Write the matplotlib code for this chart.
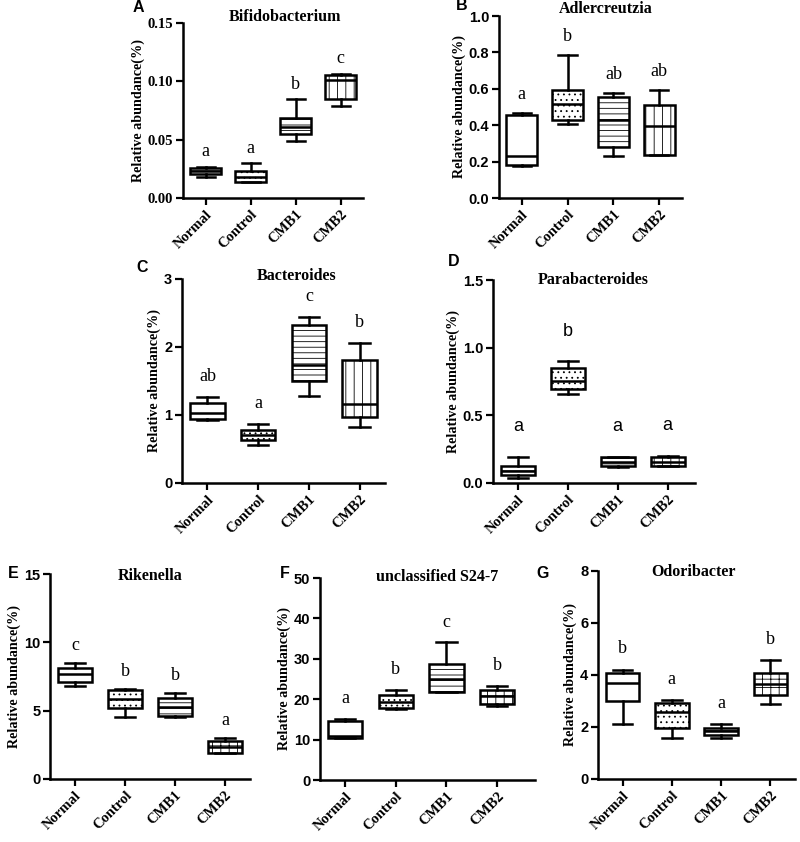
import matplotlib.pyplot as plt

plt.rcParams['hatch.linewidth'] = 0.6

groups = ['Normal', 'Control', 'CMB1', 'CMB2']

# each box: (min, q1, median, q3, max)
bifido = [(0.0177, 0.0209, 0.0234, 0.0257, 0.027),
          (0.0135, 0.0137, 0.018, 0.0229, 0.030),
          (0.0491, 0.0546, 0.0606, 0.0686, 0.0849),
          (0.0791, 0.0849, 0.101, 0.1054, 0.1066)]
adler = [(0.176, 0.18, 0.233, 0.457, 0.468),
         (0.406, 0.428, 0.514, 0.596, 0.785),
         (0.229, 0.279, 0.428, 0.556, 0.576),
         (0.237, 0.237, 0.398, 0.51, 0.596)]
bactero = [(0.92, 0.946, 1.03, 1.176, 1.265),
           (0.554, 0.637, 0.71, 0.775, 0.873),
           (1.284, 1.505, 1.74, 2.33, 2.44),
           (0.82, 0.97, 1.16, 1.81, 2.06)]
parabac = [(0.037, 0.057, 0.091, 0.123, 0.189),
           (0.657, 0.696, 0.757, 0.848, 0.898),
           (0.116, 0.128, 0.155, 0.189, 0.194),
           (0.123, 0.123, 0.155, 0.189, 0.197)]
rikenella = [(6.83, 7.07, 7.66, 8.15, 8.51),
             (4.56, 5.22, 5.83, 6.51, 6.56),
             (4.51, 4.63, 5.29, 5.9, 6.32),
             (1.93, 1.93, 2.37, 2.8, 2.98)]
s24 = [(10.3, 10.5, 10.9, 14.65, 15.06),
       (17.6, 17.8, 19.4, 21.1, 22.4),
       (21.7, 21.9, 25.0, 28.6, 34.1),
       (18.3, 18.8, 20.7, 22.3, 23.3)]
odori = [(2.11, 3.0, 3.70, 4.08, 4.21),
         (1.56, 1.97, 2.59, 2.93, 3.03),
         (1.56, 1.69, 1.84, 1.97, 2.11),
         (2.88, 3.25, 3.64, 4.08, 4.57)]

sig_A = ['a', 'a', 'b', 'c']
sig_B = ['a', 'b', 'ab', 'ab']
sig_C = ['ab', 'a', 'c', 'b']
sig_D = ['a', 'b', 'a', 'a']
sig_E = ['c', 'b', 'b', 'a']
sig_F = ['a', 'b', 'c', 'b']
sig_G = ['b', 'a', 'a', 'b']

W, H = 800, 842
fig = plt.figure(figsize=(W / 100, H / 100), dpi=100)

SERIF = 'Liberation Serif'
SANS = 'Liberation Sans'


def px_axes(left, top, right, bottom):
    return fig.add_axes([left / W, 1 - bottom / H, (right - left) / W, (bottom - top) / H])


panels = [
    # letter, title, data, sig, box(l,t,r,b), ymax, yticks, fmt, tickfont, hatches, letter pos, title pos, sigoff, sigfont, xmax
    ('A', 'Bifidobacterium', bifido, sig_A, (183, 23, 363, 198), 0.15, [0, 0.05, 0.10, 0.15], '{:.2f}', SERIF,
     ['--', '...', '---', '||'], (133, 8), (285, 17), 0.085, SERIF, 3.5),
    ('B', 'Adlercreutzia', adler, sig_B, (499, 16, 682, 198), 1.0, [0, 0.2, 0.4, 0.6, 0.8, 1.0], '{:.1f}', SANS,
     [None, '...', '---', '||'], (456, 6), (606, 9), 0.1, SERIF, 3.5),
    ('C', 'Bacteroides', bactero, sig_C, (182, 279, 385, 483), 3, [0, 1, 2, 3], '{:.0f}', SANS,
     [None, '...', '---', '||'], (136, 267), (297, 276), 0.1, SERIF, 3.5),
    ('D', 'Parabacteroides', parabac, sig_D, (493, 280, 695, 483), 1.5, [0, 0.5, 1.0, 1.5], '{:.1f}', SANS,
     ['--', '...', '---', '++'], (448, 262), (593, 280), 0.15, SANS, 3.55),
    ('E', 'Rikenella', rikenella, sig_E, (50, 574, 250, 779), 15, [0, 5, 10, 15], '{:.0f}', SANS,
     [None, '...', '---', '++'], (8, 573), (150, 576), 0.085, SERIF, 3.5),
    ('F', 'unclassified S24-7', s24, sig_F, (320, 578, 535, 780), 50, [0, 10, 20, 30, 40, 50], '{:.0f}', SANS,
     [None, '...', '---', '++'], (280, 573), (437, 577), 0.1, SERIF, 3.75),
    ('G', 'Odoribacter', odori, sig_G, (598, 571, 795, 779), 8, [0, 2, 4, 6, 8], '{:.0f}', SANS,
     [None, '...', '---', '++'], (536, 573), (693, 572), 0.1, SERIF, 3.5),
]

for (letter, title, data, sig, box, ymax, yticks, fmt, tfont, hatches,
     lpos, tpos, sigoff, sigfont, xmax) in panels:
    ax = px_axes(*box)
    stats = []
    for lo, q1, med, q3, hi in data:
        stats.append({'whislo': lo, 'q1': q1, 'med': med, 'q3': q3, 'whishi': hi, 'fliers': []})
    bp = ax.bxp(stats, positions=range(4), widths=0.68, patch_artist=True,
                showfliers=False, capwidths=0.4,
                boxprops=dict(linewidth=1.8, edgecolor='black', facecolor='white'),
                medianprops=dict(linewidth=1.8, color='black'),
                whiskerprops=dict(linewidth=1.8, color='black'),
                capprops=dict(linewidth=1.8, color='black'))
    for patch, h in zip(bp['boxes'], hatches):
        if h:
            patch.set_hatch(h)
    ax.set_xlim(-0.5, xmax)
    ax.set_ylim(0, ymax)
    ax.set_yticks(yticks)
    ax.set_yticklabels([fmt.format(v) for v in yticks], fontfamily=tfont,
                       fontweight='bold', fontsize=10.5)
    ax.set_xticks(range(4))
    ax.set_xticklabels(groups, rotation=45, ha='right', rotation_mode='anchor',
                       fontfamily=SERIF, fontweight='bold', fontsize=10.5)
    for s in ['top', 'right']:
        ax.spines[s].set_visible(False)
    for s in ['left', 'bottom']:
        ax.spines[s].set_linewidth(1.8)
    ax.tick_params(width=1.6, length=5, pad=2)
    ax.set_ylabel('Relative abundance(%)', fontfamily=SERIF, fontweight='bold',
                  fontsize=10.2, labelpad=2)
    for i, (d, s) in enumerate(zip(data, sig)):
        ax.text(i, d[4] + sigoff * ymax, s, ha='center', va='center',
                fontfamily=sigfont, fontsize=13)
    fig.text(lpos[0] / W, 1 - lpos[1] / H, letter, fontfamily=SANS, fontweight='bold',
             fontsize=11.5, ha='left', va='center')
    fig.text(tpos[0] / W, 1 - tpos[1] / H, title, fontfamily=SERIF, fontweight='bold',
             fontsize=11.5, ha='center', va='center')

fig.savefig('out.png', dpi=100)
